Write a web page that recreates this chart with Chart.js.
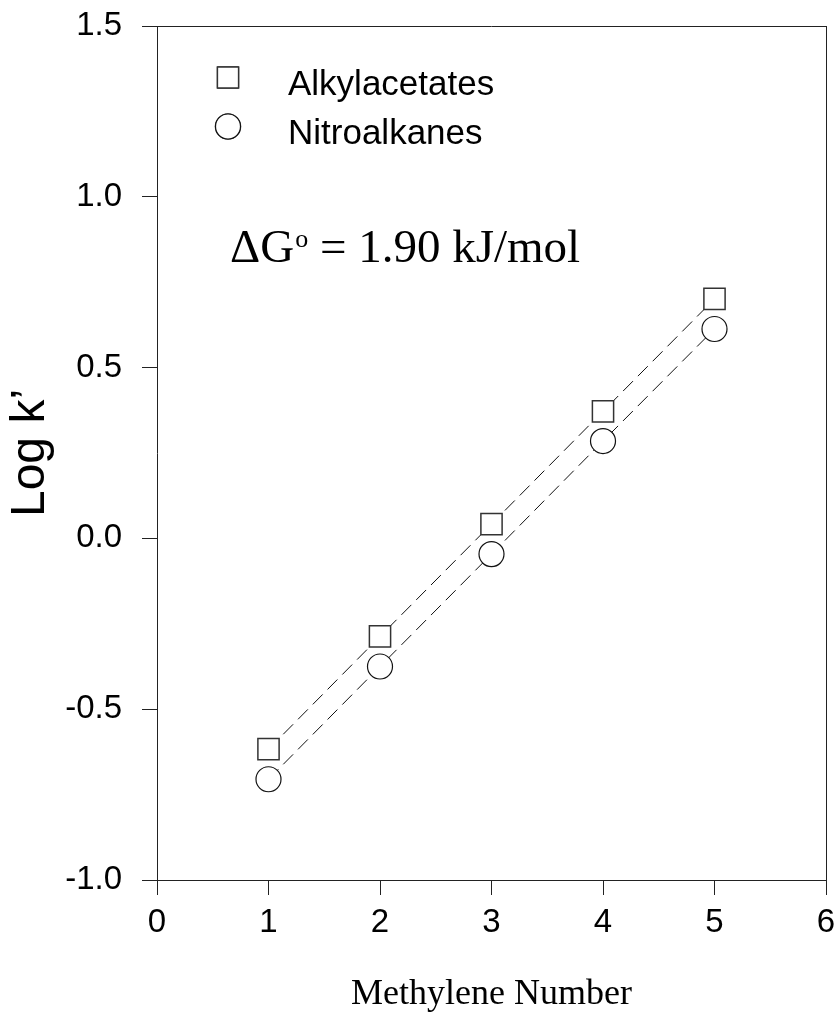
<!DOCTYPE html>
<html>
<head>
<meta charset="utf-8">
<script src="https://cdn.jsdelivr.net/npm/chart.js@4.4.0/dist/chart.umd.min.js"></script>
<style>
  html, body { margin: 0; padding: 0; background: #fff; }
  #wrap { width: 838px; height: 1014px; }
</style>
</head>
<body>
<div id="wrap"><canvas id="chart" width="838" height="1014"></canvas></div>
<script>
// methylene number vs log k'
const methylene = [1, 2, 3, 4, 5];
const alkylacetates = [-0.617, -0.287, 0.042, 0.372, 0.701];
const nitroalkanes = [-0.705, -0.375, -0.046, 0.285, 0.613];

const xTicks = [0, 1, 2, 3, 4, 5, 6];
const yTicks = [-1.0, -0.5, 0.0, 0.5, 1.0, 1.5];

const seriesNames = ['Alkylacetates', 'Nitroalkanes'];
const noteParts = ['\u0394G', 'o', ' = 1.90 kJ/mol'];

const SANS = '"Liberation Sans", Arial, sans-serif';
const SERIF = '"Liberation Serif", "Times New Roman", serif';

const toPoints = ys => methylene.map((x, i) => ({ x: x, y: ys[i] }));

// white page, frame around the plot, legend and the free energy note
const decorations = {
  id: 'decorations',
  beforeDraw(chart) {
    const ctx = chart.ctx;
    ctx.save();
    ctx.fillStyle = '#fff';
    ctx.fillRect(0, 0, chart.width, chart.height);
    ctx.restore();
  },
  beforeDatasetsDraw(chart) {
    const { ctx, chartArea: a } = chart;
    ctx.save();
    ctx.strokeStyle = '#222';
    ctx.lineWidth = 1;
    ctx.beginPath();
    ctx.moveTo(a.left, Math.round(a.top) + 0.5);
    ctx.lineTo(a.right, Math.round(a.top) + 0.5);
    ctx.moveTo(Math.round(a.right) + 0.5, a.top);
    ctx.lineTo(Math.round(a.right) + 0.5, a.bottom);
    ctx.stroke();
    ctx.restore();
  },
  afterDraw(chart) {
    const { ctx, chartArea: a } = chart;
    ctx.save();

    // legend
    const lx = a.left + 71;
    chart.data.datasets.forEach((ds, i) => {
      const cy = a.top + 51.5 + i * 49;
      Chart.helpers.drawPoint(ctx, {
        pointStyle: ds.pointStyle,
        radius: ds.pointRadius,
        borderWidth: ds.pointBorderWidth
      }, lx, cy);
      ctx.fillStyle = '#fff';
      ctx.strokeStyle = ds.pointBorderColor;
      ctx.lineWidth = ds.pointBorderWidth;
      ctx.fill();
      ctx.stroke();
      ctx.fillStyle = '#000';
      ctx.font = '35px ' + SANS;
      ctx.textBaseline = 'alphabetic';
      ctx.textAlign = 'left';
      ctx.fillText(ds.label, a.left + 131, a.top + 69 + i * 49);
    });

    // ΔGo = 1.90 kJ/mol
    let x = a.left + 73;
    const base = a.top + 236;
    ctx.fillStyle = '#000';
    ctx.font = '47px ' + SERIF;
    ctx.fillText(noteParts[0], x, base);
    x += ctx.measureText(noteParts[0]).width + 1;
    ctx.font = '26px ' + SERIF;
    ctx.fillText(noteParts[1], x, base - 15);
    x += ctx.measureText(noteParts[1]).width;
    ctx.font = '47px ' + SERIF;
    ctx.fillText(noteParts[2], x, base);

    ctx.restore();
  }
};

new Chart(document.getElementById('chart'), {
  type: 'line',
  data: {
    datasets: [
      {
        label: seriesNames[0],
        data: toPoints(alkylacetates),
        borderColor: '#111',
        borderWidth: 1,
        borderDash: [14, 7],
        pointStyle: 'rect',
        pointRadius: 15,
        pointBackgroundColor: '#fff',
        pointBorderColor: '#333',
        pointBorderWidth: 1.5,
        fill: false,
        tension: 0
      },
      {
        label: seriesNames[1],
        data: toPoints(nitroalkanes),
        borderColor: '#111',
        borderWidth: 1,
        borderDash: [14, 7],
        pointStyle: 'circle',
        pointRadius: 12.5,
        pointBackgroundColor: '#fff',
        pointBorderColor: '#111',
        pointBorderWidth: 1.2,
        fill: false,
        tension: 0
      }
    ]
  },
  options: {
    responsive: false,
    animation: false,
    layout: { autoPadding: false, padding: { top: 26, right: 12, left: 0, bottom: 0 } },
    plugins: {
      legend: { display: false },
      tooltip: { enabled: false }
    },
    scales: {
      x: {
        type: 'linear',
        min: xTicks[0],
        max: xTicks[xTicks.length - 1],
        afterFit: s => { s.height = 134; s.paddingLeft = 0; s.paddingRight = 0; },
        afterBuildTicks: s => { s.ticks = xTicks.map(v => ({ value: v })); },
        grid: { drawOnChartArea: false, drawTicks: true, tickLength: 15, tickColor: '#222', tickWidth: 1 },
        border: { display: true, color: '#222', width: 1 },
        ticks: {
          color: '#000',
          padding: 8,
          maxRotation: 0,
          font: { family: SANS, size: 33 },
          callback: v => String(v)
        },
        title: {
          display: true,
          text: 'Methylene Number',
          color: '#000',
          font: { family: SERIF, size: 36, lineHeight: 1.0 },
          padding: { top: 0, bottom: 1 }
        }
      },
      y: {
        type: 'linear',
        min: yTicks[0],
        max: yTicks[yTicks.length - 1],
        afterFit: s => { s.width = 157; s.paddingTop = 0; s.paddingBottom = 0; },
        afterBuildTicks: s => { s.ticks = yTicks.map(v => ({ value: v })); },
        grid: { drawOnChartArea: false, drawTicks: true, tickLength: 15, tickColor: '#222', tickWidth: 1 },
        border: { display: true, color: '#222', width: 1 },
        ticks: {
          color: '#000',
          padding: 20,
          font: { family: SANS, size: 33 },
          callback: v => Number(v).toFixed(1)
        },
        title: {
          display: true,
          text: 'Log k\u2019',
          color: '#000',
          font: { family: SANS, size: 48, lineHeight: 1.2 },
          padding: { top: 2, bottom: 0 }
        }
      }
    }
  },
  plugins: [decorations]
});
</script>
</body>
</html>
